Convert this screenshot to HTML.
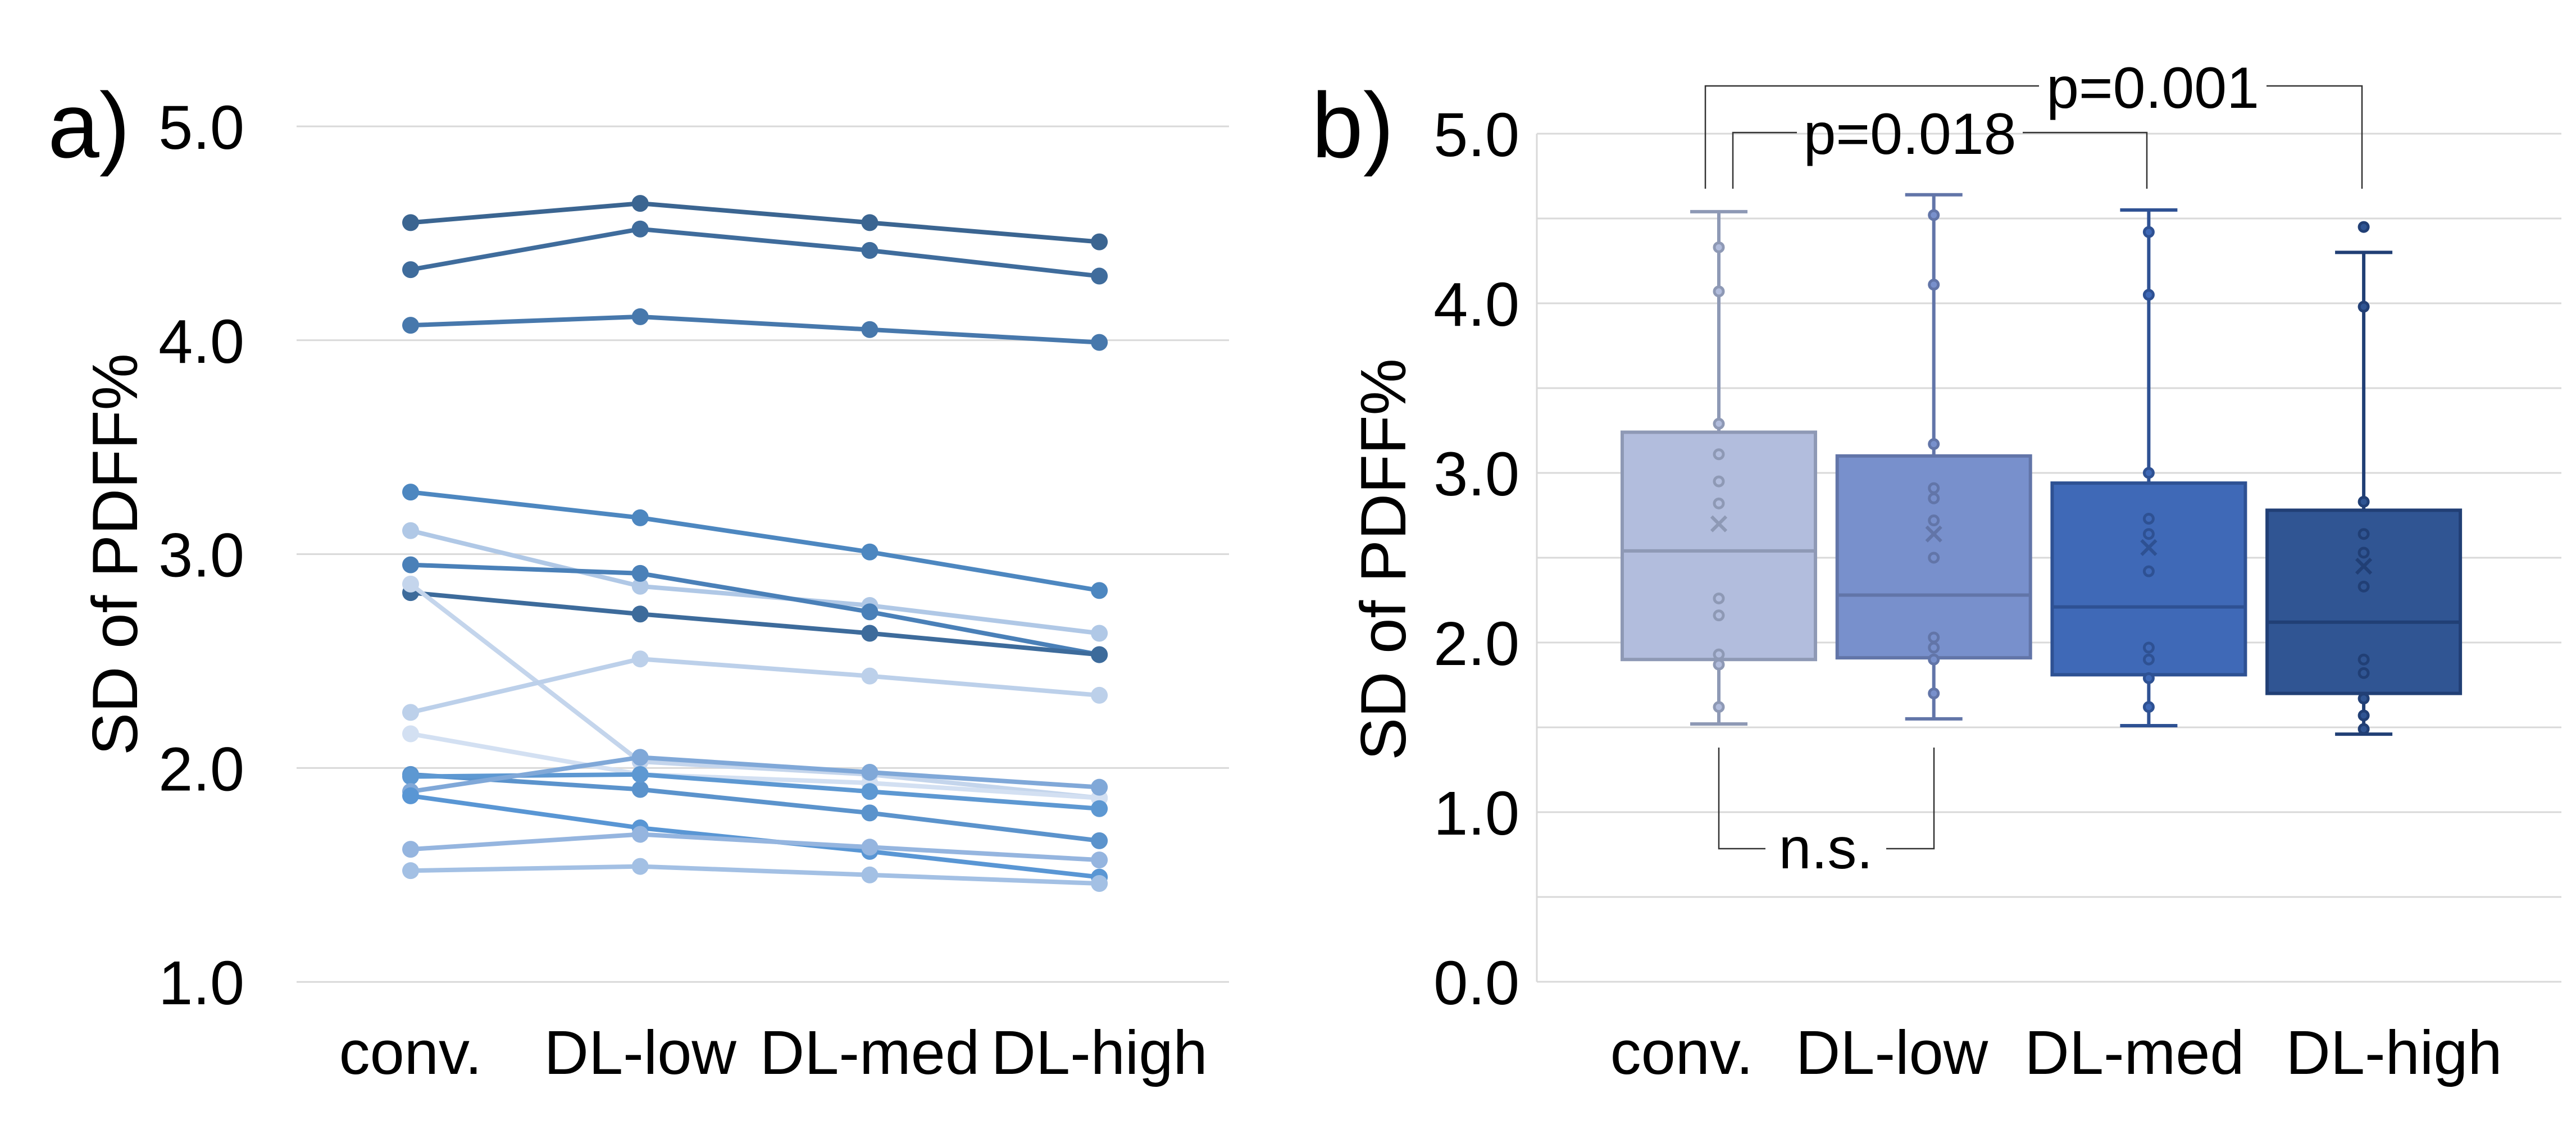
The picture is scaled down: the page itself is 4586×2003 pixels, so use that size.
<!DOCTYPE html>
<html><head><meta charset="utf-8"><style>
html,body{margin:0;padding:0;background:#fff;}
svg{display:block;font-family:"Liberation Sans",Arial,sans-serif;}
</style></head><body>
<svg id="chart" width="4586" height="2003" viewBox="0 0 4586 2003" xmlns="http://www.w3.org/2000/svg">
<g id="pa"></g>
<g id="pb"></g>
</svg>
<script>
// ---------- Panel a data ----------
const catsA = ["conv.","DL-low","DL-med","DL-high"];
const ticksA = [1,2,3,4,5];
const seriesA = [
  [4.55,4.64,4.55,4.46],
  [4.33,4.52,4.42,4.30],
  [4.07,4.11,4.05,3.99],
  [3.29,3.17,3.01,2.83],
  [3.11,2.85,2.76,2.63],
  [2.95,2.91,2.73,2.53],
  [2.82,2.72,2.63,2.53],
  [2.86,2.03,1.97,1.86],
  [2.26,2.51,2.43,2.34],
  [2.16,1.97,1.93,1.86],
  [1.97,1.90,1.79,1.66],
  [1.96,1.97,1.89,1.81],
  [1.89,2.05,1.98,1.91],
  [1.87,1.72,1.61,1.49],
  [1.62,1.69,1.63,1.57],
  [1.52,1.54,1.50,1.46]
];
const colorsA = ["#3b6591","#3f6c9c","#4778ac","#4d87c0","#b0c8e6","#4a80b8","#3d6b9b","#c4d5ec","#bcd0ea","#d3e0f2","#5b93cc","#5d98d2","#80a8d8","#5996d4","#95b5df","#a3c0e4"];

// ---------- Panel b data ----------
const catsB = ["conv.","DL-low","DL-med","DL-high"];
const ticksB = [0,1,2,3,4,5];
const q1B = [1.90,1.91,1.81,1.70];
const medB = [2.54,2.28,2.21,2.12];
const q3B = [3.24,3.10,2.94,2.78];
const whiskLoB = [1.52,1.55,1.51,1.46];
const whiskHiB = [4.54,4.64,4.55,4.30];
const meanB = [2.70,2.64,2.56,2.45];
const pointsB = [
  [4.33,4.07,3.29,3.11,2.95,2.82,2.26,2.16,1.93,1.87,1.62],
  [4.52,4.11,3.17,2.91,2.85,2.72,2.50,2.03,1.97,1.90,1.70],
  [4.42,4.05,3.00,2.73,2.64,2.42,1.97,1.90,1.79,1.62],
  [4.45,3.98,2.83,2.64,2.53,2.33,1.90,1.82,1.67,1.57,1.49]
];
const fillB = ["#b2bddd","#7890cc","#3f69b7","#305593"];
const strokeB = ["#8e99b5","#6275a8","#2e5193","#213f75"];

const NS="http://www.w3.org/2000/svg";
function mk(parent,tag,attrs,text){const e=document.createElementNS(NS,tag);for(const k in attrs)e.setAttribute(k,attrs[k]);if(text!==undefined)e.textContent=text;parent.appendChild(e);return e;}
const FS=110;

// ---------- Panel a ----------
const pa=document.getElementById('pa');
const yA=v=>225+(5-v)*380.8;
const xA=i=>731+i*408.7;
ticksA.forEach(t=>{
  const g=mk(pa,'line',{x1:528,x2:2188,y1:yA(t),y2:yA(t),stroke:'#d9d9d9','stroke-width':3});
  
  
  const l=mk(pa,'text',{x:435,y:yA(t)+40,'text-anchor':'end','font-size':FS,fill:'#000'},t.toFixed(1));
  
  
});
catsA.forEach((c,i)=>{
  const l=mk(pa,'text',{x:xA(i),y:1912,'text-anchor':'middle','font-size':FS,fill:'#000'},c);
  
  
});
seriesA.forEach((s,k)=>{
  const g=mk(pa,'g',{});
  
  
  mk(g,'polyline',{points:s.map((v,i)=>xA(i)+','+yA(v)).join(' '),fill:'none',stroke:colorsA[k],'stroke-width':8});
  s.forEach((v,i)=>{
    const c=mk(g,'circle',{cx:xA(i),cy:yA(v),r:15,fill:colorsA[k]});
    
    
  });
});
let t=mk(pa,'text',{x:85,y:280,'font-size':165,fill:'#000'},'a)');


t=mk(pa,'text',{x:0,y:0,'font-size':114,fill:'#000','text-anchor':'middle',transform:'translate(244,987) rotate(-90)'},'SD of PDFF%');



// ---------- Panel b ----------
const pb=document.getElementById('pb');
const yB=v=>1748-v*302;
const xB=i=>3060+i*382.7;
const labelXB=[2994,3368,3800,4262];
for(let v=0;v<=5.001;v+=0.5){
  const g=mk(pb,'line',{x1:2736,x2:4560,y1:yB(v),y2:yB(v),stroke:'#d9d9d9','stroke-width':3});
  
  
}
let ax=mk(pb,'line',{x1:2736,x2:2736,y1:yB(5),y2:yB(0),stroke:'#d9d9d9','stroke-width':3});


ticksB.forEach(v=>{
  const l=mk(pb,'text',{x:2705,y:yB(v)+40,'text-anchor':'end','font-size':FS,fill:'#000'},v.toFixed(1));
  
  
});
catsB.forEach((c,i)=>{
  const l=mk(pb,'text',{x:labelXB[i],y:1912,'text-anchor':'middle','font-size':FS,fill:'#000'},c);
  
  
});
catsB.forEach((c,i)=>{
  const g=mk(pb,'g',{});
  
  
  const x=xB(i),st=strokeB[i],hw=172;
  mk(g,'line',{x1:x,x2:x,y1:yB(whiskHiB[i]),y2:yB(whiskLoB[i]),stroke:st,'stroke-width':6});
  mk(g,'line',{x1:x-51,x2:x+51,y1:yB(whiskHiB[i]),y2:yB(whiskHiB[i]),stroke:st,'stroke-width':6});
  mk(g,'line',{x1:x-51,x2:x+51,y1:yB(whiskLoB[i]),y2:yB(whiskLoB[i]),stroke:st,'stroke-width':6});
  mk(g,'rect',{x:x-hw,y:yB(q3B[i]),width:hw*2,height:yB(q1B[i])-yB(q3B[i]),fill:fillB[i],stroke:st,'stroke-width':6});
  mk(g,'line',{x1:x-hw,x2:x+hw,y1:yB(medB[i]),y2:yB(medB[i]),stroke:st,'stroke-width':6});
  pointsB[i].forEach(v=>{
    const p=mk(g,'circle',{cx:x,cy:yB(v),r:8,fill:fillB[i],stroke:st,'stroke-width':5});
    
    
  });
  const m=yB(meanB[i]);
  mk(g,'path',{d:`M${x-13},${m-13}L${x+13},${m+13}M${x-13},${m+13}L${x+13},${m-13}`,stroke:st,'stroke-width':6,fill:'none'});
});
function bracket(name,x1,x2,yTop,yEnd,label,gap1,gap2,ty){
  const g=mk(pb,'g',{});
  
  
  const s={stroke:'#333','stroke-width':2.5,fill:'none'};
  mk(g,'path',Object.assign({d:`M${x1},${yEnd}V${yTop}H${gap1}M${gap2},${yTop}H${x2}V${yEnd}`},s));
  mk(g,'text',{x:(gap1+gap2)/2,y:ty,'text-anchor':'middle','font-size':104,fill:'#000'},label);
}
bracket('significance-bracket-p001',3036,4205,153,336,'p=0.001',3630,4035,192);
bracket('significance-bracket-p018',3085,3822,236,336,'p=0.018',3199,3601,274);
bracket('significance-bracket-ns',3060,3443,1511,1331,'n.s.',3143,3358,1546);
t=mk(pb,'text',{x:2335,y:280,'font-size':165,fill:'#000'},'b)');


t=mk(pb,'text',{x:0,y:0,'font-size':114,fill:'#000','text-anchor':'middle',transform:'translate(2502,996) rotate(-90)'},'SD of PDFF%');


</script>
</body></html>
